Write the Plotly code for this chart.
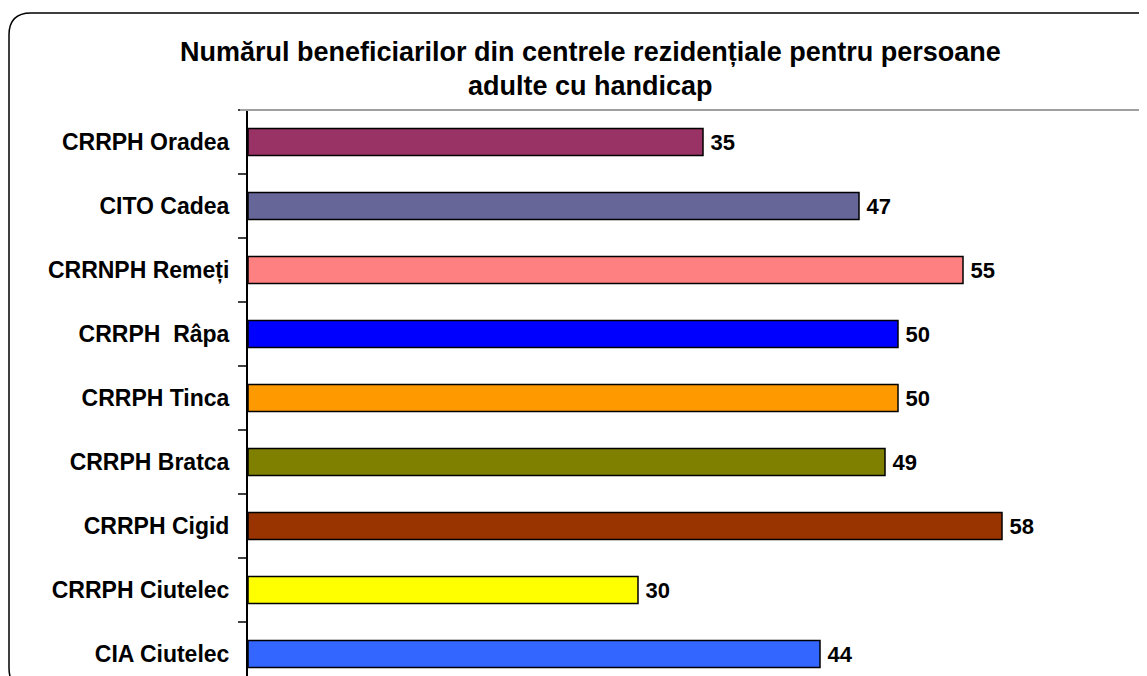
import plotly.graph_objects as go

# === Data ===
centre = [
    "CRRPH Oradea",
    "CITO Cadea",
    "CRRNPH Remeți",
    "CRRPH  Râpa",
    "CRRPH Tinca",
    "CRRPH Bratca",
    "CRRPH Cigid",
    "CRRPH Ciutelec",
    "CIA Ciutelec",
]
beneficiari = [35, 47, 55, 50, 50, 49, 58, 30, 44]
culori = ["#993366", "#666699", "#FF8080", "#0000FF", "#FF9900",
          "#808000", "#993300", "#FFFF00", "#3366FF"]

TITLU_1 = "Numărul beneficiarilor din centrele rezidențiale pentru persoane"
TITLU_2 = "adulte cu handicap"

FONT = "Liberation Sans, Arial, sans-serif"

# === Page geometry (page pixels; browser body has an 8px margin) ===
OFF = 8
W, H = 1147 - OFF, 676 - OFF
L, T = 248 - OFF, 110 - OFF   # plot area left / top inside the figure
PW, PH = W - L, H - T
ROW = 64                      # pixels per category


def px(x):
    # page x -> paper x
    return (x - OFF - L) / PW


def py(y):
    # page y -> paper y
    return (H - (y - OFF)) / PH


fig = go.Figure()

fig.add_trace(go.Bar(
    x=beneficiari,
    y=centre,
    orientation="h",
    width=0.42,
    marker=dict(color=culori, line=dict(color="black", width=1.5)),
    text=beneficiari,
    texttemplate="\u2009%{x}",
    textposition="outside",
    textfont=dict(family=FONT, size=22, color="black", weight="bold"),
    cliponaxis=False,
    hoverinfo="skip",
))

# rounded frame around the chart (bottom and right run off the page)
x0, y0, x1, y1, r = 9, 13, 1165, 690, 22
path = (
    f"M {px(x0 + r)},{py(y0)} L {px(x1 - r)},{py(y0)} "
    f"Q {px(x1)},{py(y0)} {px(x1)},{py(y0 + r)} "
    f"L {px(x1)},{py(y1 - r)} Q {px(x1)},{py(y1)} {px(x1 - r)},{py(y1)} "
    f"L {px(x0 + r)},{py(y1)} Q {px(x0)},{py(y1)} {px(x0)},{py(y1 - r)} "
    f"L {px(x0)},{py(y0 + r)} Q {px(x0)},{py(y0)} {px(x0 + r)},{py(y0)} Z"
)
fig.add_shape(type="path", xref="paper", yref="paper", path=path,
              line=dict(color="black", width=1.5), layer="above")

# grey top border of the plot area
fig.add_shape(type="line", xref="paper", yref="paper",
              x0=px(240), x1=1.02, y0=1, y1=1,
              line=dict(color="#A0A0A0", width=2))

# title, two lines
for txt, yy in [(TITLU_1, 52), (TITLU_2, 86)]:
    fig.add_annotation(text=txt, xref="paper", yref="paper",
                       x=px(590), y=py(yy), showarrow=False,
                       xanchor="center", yanchor="middle",
                       font=dict(family=FONT, size=27, color="black",
                                 weight="bold"))

n_vis = PH / ROW
fig.update_layout(
    width=W,
    height=H,
    margin=dict(l=L, r=0, t=T, b=0, autoexpand=False),
    plot_bgcolor="white",
    paper_bgcolor="white",
    showlegend=False,
    xaxis=dict(
        range=[0, PW / 13.0],
        visible=False,
        showgrid=False,
        zeroline=False,
    ),
    yaxis=dict(
        type="category",
        categoryorder="array",
        categoryarray=centre,
        range=[n_vis - 0.5, -0.5],
        showline=True,
        linecolor="black",
        linewidth=2,
        ticks="outside",
        tickson="boundaries",
        ticklen=8,
        tickwidth=1.5,
        tickcolor="#404040",
        ticklabelstandoff=12,
        showgrid=False,
        zeroline=False,
        tickfont=dict(family=FONT, size=23, color="black", weight="bold"),
    ),
)

fig.write_html("out.html")
